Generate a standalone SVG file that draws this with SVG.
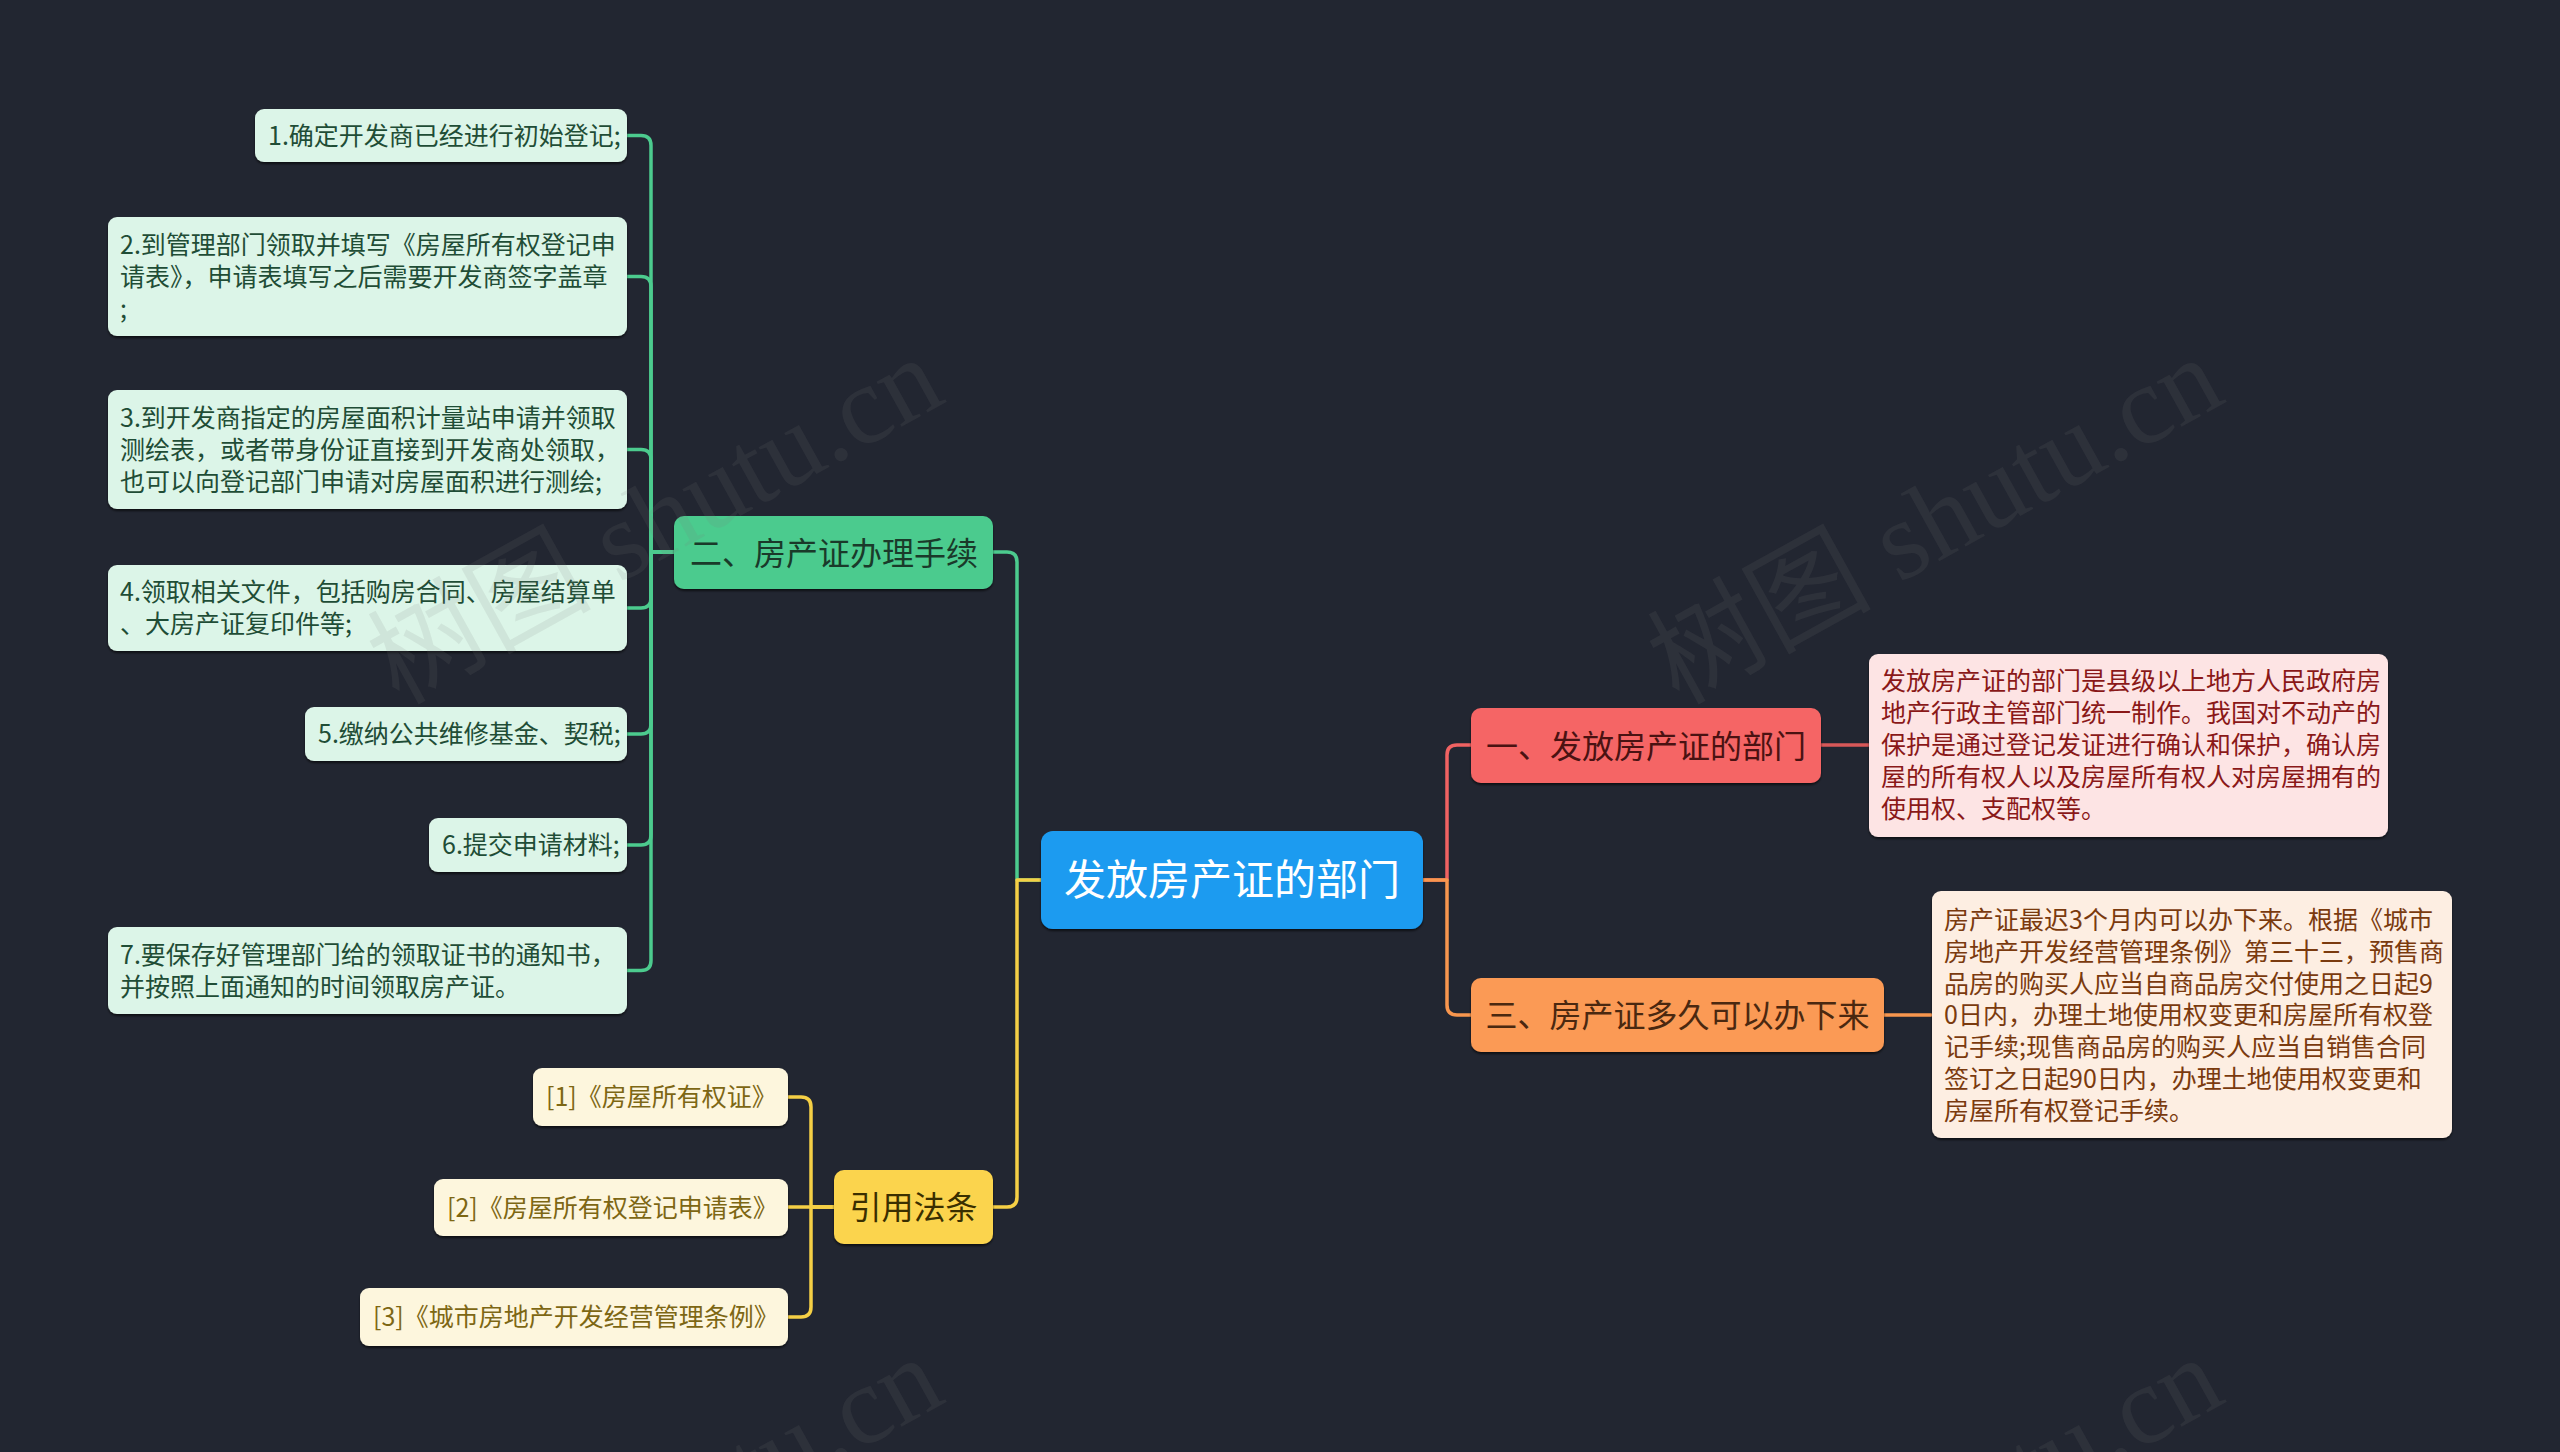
<svg xmlns="http://www.w3.org/2000/svg" width="2560" height="1452" viewBox="0 0 2560 1452">
<defs>
<filter id="sh" x="-5%" y="-10%" width="110%" height="130%">
<feDropShadow dx="0" dy="2" stdDeviation="1.2" flood-color="#000" flood-opacity="0.6"/>
</filter>
</defs>
<style>
text{font-family:"Noto Sans CJK SC","Noto Sans",sans-serif;dominant-baseline:central}
.c{fill:none;stroke-width:3.5;stroke-linecap:round;stroke-linejoin:round}
.g{stroke:#4ccb8e}.y{stroke:#f5cf45}.r{stroke:#f06262}.o{stroke:#f8964e}
.box{filter:url(#sh)}
.lg{fill:#dcf5e8}.tg{fill:#1f4d36;font-size:25px}
.ly{fill:#fdf6dd}.ty{fill:#7d6714;font-size:25px}
.lr{fill:#fde4e4}.tr{fill:#8a1818;font-size:25px}
.lo{fill:#fdeee2}.to{fill:#7a3a0e;font-size:25px}
.b{font-size:32px;text-anchor:middle}
.tg,.ty,.tr,.to,.b{transform:translate(0px,-2px)}
.ct{transform:translate(0px,-4px)}
.wm{font-family:"Liberation Serif","Noto Sans CJK SC",serif;font-size:112px;fill:#7a7a7a;fill-opacity:0.13;text-anchor:middle}
</style>
<rect width="2560" height="1452" fill="#222631"/>

<g id="connectors">
<path class="c g" d="M1041,880 H1017 V562 Q1017,552 1007,552 H993"/>
<path class="c y" d="M1041,880 H1017 V1197 Q1017,1207 1007,1207 H993"/>
<path class="c r" d="M1423,880 H1447 V755 Q1447,745 1457,745 H1471"/>
<path class="c o" d="M1423,880 H1447 V1005 Q1447,1015 1457,1015 H1471"/>
<path class="c" stroke="#d85858" d="M1821,745 H1869"/>
<path class="c o" d="M1884,1015 H1931"/>
<path class="c g" d="M674,552 H651 V145.5 Q651,135.5 641,135.5 H627"/>
<path class="c g" d="M674,552 H651 V286.5 Q651,276.5 641,276.5 H627"/>
<path class="c g" d="M674,552 H651 V459.5 Q651,449.5 641,449.5 H627"/>
<path class="c g" d="M674,552 H651 V598 Q651,608 641,608 H627"/>
<path class="c g" d="M674,552 H651 V724 Q651,734 641,734 H627"/>
<path class="c g" d="M674,552 H651 V835 Q651,845 641,845 H627"/>
<path class="c g" d="M674,552 H651 V960.5 Q651,970.5 641,970.5 H627"/>
<path class="c y" d="M834,1207 H811 V1107 Q811,1097 801,1097 H788"/>
<path class="c y" d="M834,1207 H788"/>
<path class="c y" d="M834,1207 H811 V1307 Q811,1317 801,1317 H788"/>
</g>

<g id="center">
<rect class="box" x="1041" y="831" width="382" height="98" rx="12" fill="#1d9bf0"/>
<text class="ct" x="1232" y="880" font-size="42" fill="#ffffff" text-anchor="middle">发放房产证的部门</text>
</g>

<g id="branch2">
<rect class="box" x="674" y="516" width="319" height="73" rx="10" fill="#4ccb8e"/>
<text class="b" x="834" y="552.5" fill="#1a3a2a">二、房产证办理手续</text>
</g>
<g id="branch1">
<rect class="box" x="1471" y="708" width="350" height="75" rx="10" fill="#f56565"/>
<text class="b" x="1646" y="745.5" fill="#4a1212">一、发放房产证的部门</text>
</g>
<g id="branch3">
<rect class="box" x="1471" y="978" width="413" height="74" rx="10" fill="#fb9a55"/>
<text class="b" x="1677.5" y="1015" fill="#4a2810">三、房产证多久可以办下来</text>
</g>
<g id="branchref">
<rect class="box" x="834" y="1170" width="159" height="74" rx="10" fill="#fbd44e"/>
<text class="b" x="913.5" y="1207" fill="#3a2f00">引用法条</text>
</g>

<g id="leaf1">
<rect class="box lg" x="255" y="109" width="372" height="53" rx="9"/>
<text class="tg" x="268" y="135.5">1.确定开发商已经进行初始登记;</text>
</g>
<g id="leaf2">
<rect class="box lg" x="108" y="217" width="519" height="119" rx="9"/>
<text class="tg" x="120" y="244.5">2.到管理部门领取并填写《房屋所有权登记申</text>
<text class="tg" x="120" y="276.5">请表》，申请表填写之后需要开发商签字盖章</text>
<text class="tg" x="120" y="308.5">;</text>
</g>
<g id="leaf3">
<rect class="box lg" x="108" y="390" width="519" height="119" rx="9"/>
<text class="tg" x="120" y="417.5">3.到开发商指定的房屋面积计量站申请并领取</text>
<text class="tg" x="120" y="449.5">测绘表，或者带身份证直接到开发商处领取，</text>
<text class="tg" x="120" y="481.5">也可以向登记部门申请对房屋面积进行测绘;</text>
</g>
<g id="leaf4">
<rect class="box lg" x="108" y="565" width="519" height="86" rx="9"/>
<text class="tg" x="120" y="592">4.领取相关文件，包括购房合同、房屋结算单</text>
<text class="tg" x="120" y="624">、大房产证复印件等;</text>
</g>
<g id="leaf5">
<rect class="box lg" x="305" y="707" width="322" height="54" rx="9"/>
<text class="tg" x="318" y="734">5.缴纳公共维修基金、契税;</text>
</g>
<g id="leaf6">
<rect class="box lg" x="429" y="818" width="198" height="54" rx="9"/>
<text class="tg" x="442" y="845">6.提交申请材料;</text>
</g>
<g id="leaf7">
<rect class="box lg" x="108" y="927" width="519" height="87" rx="9"/>
<text class="tg" x="120" y="954.5">7.要保存好管理部门给的领取证书的通知书，</text>
<text class="tg" x="120" y="986.5">并按照上面通知的时间领取房产证。</text>
</g>

<g id="note1">
<rect class="box lr" x="1869" y="654" width="519" height="183" rx="9"/>
<text class="tr" x="1881" y="681">发放房产证的部门是县级以上地方人民政府房</text>
<text class="tr" x="1881" y="713">地产行政主管部门统一制作。我国对不动产的</text>
<text class="tr" x="1881" y="745">保护是通过登记发证进行确认和保护，确认房</text>
<text class="tr" x="1881" y="777">屋的所有权人以及房屋所有权人对房屋拥有的</text>
<text class="tr" x="1881" y="809">使用权、支配权等。</text>
</g>
<g id="note3">
<rect class="box lo" x="1932" y="891" width="520" height="247" rx="9"/>
<text class="to" x="1944" y="920">房产证最迟3个月内可以办下来。根据《城市</text>
<text class="to" x="1944" y="951.8">房地产开发经营管理条例》第三十三，预售商</text>
<text class="to" x="1944" y="983.6">品房的购买人应当自商品房交付使用之日起9</text>
<text class="to" x="1944" y="1015.4">0日内，办理土地使用权变更和房屋所有权登</text>
<text class="to" x="1944" y="1047.2">记手续;现售商品房的购买人应当自销售合同</text>
<text class="to" x="1944" y="1079">签订之日起90日内，办理土地使用权变更和</text>
<text class="to" x="1944" y="1110.8">房屋所有权登记手续。</text>
</g>

<g id="ref1">
<rect class="box ly" x="533" y="1068" width="255" height="58" rx="9"/>
<text class="ty" x="546" y="1097">[1]《房屋所有权证》</text>
</g>
<g id="ref2">
<rect class="box ly" x="434" y="1179" width="354" height="57" rx="9"/>
<text class="ty" x="447" y="1207.5">[2]《房屋所有权登记申请表》</text>
</g>
<g id="ref3">
<rect class="box ly" x="360" y="1288" width="428" height="58" rx="9"/>
<text class="ty" x="373" y="1317">[3]《城市房地产开发经营管理条例》</text>
</g>

<g id="watermark">
<text class="wm" transform="translate(655,520) rotate(-29)">树图 shutu.cn</text>
<text class="wm" transform="translate(1935,520) rotate(-29)">树图 shutu.cn</text>
<text class="wm" transform="translate(655,1520) rotate(-29)">树图 shutu.cn</text>
<text class="wm" transform="translate(1935,1520) rotate(-29)">树图 shutu.cn</text>
</g>
</svg>
